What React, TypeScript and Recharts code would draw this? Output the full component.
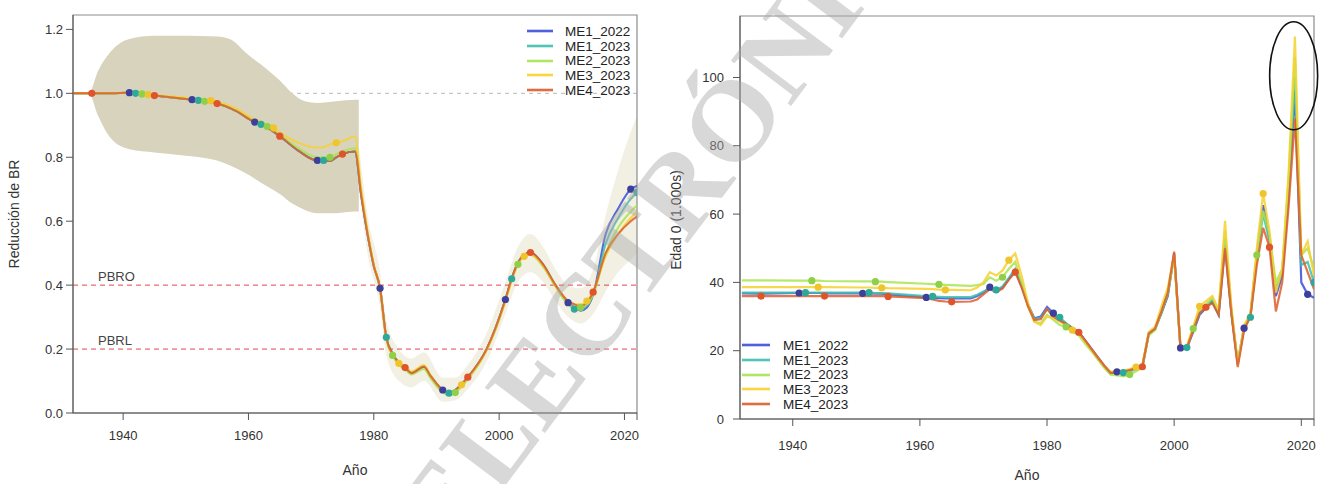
import React from 'react';
import {
  ComposedChart,
  LineChart,
  Line,
  Area,
  XAxis,
  YAxis,
  ReferenceLine,
  ReferenceArea,
  ReferenceDot,
  Legend,
} from 'recharts';

const FONT = '"Liberation Sans", Arial, Helvetica, sans-serif';

const SERIES = ['ME1_2022', 'ME1_2023', 'ME2_2023', 'ME3_2023', 'ME4_2023'];
const COLORS = ['#3b4fd8', '#3dbfae', '#a9e44f', '#f6d12e', '#dd5d2c'];
const DOT_COLORS = ['#3d3f9c', '#2fa89c', '#8fd048', '#f0c52c', '#e0542c'];
// each run marks the years whose last digit is its own number (1..5)
const DOT_DIGIT = [1, 2, 3, 4, 5];

// ---- spawning biomass depletion ----
const brYears = [
  1932, 1935, 1938, 1941, 1942, 1943, 1944, 1945, 1948, 1951, 1952, 1953, 1954, 1955, 1958,
  1961, 1962, 1963, 1964, 1965, 1968, 1971, 1972, 1973, 1974, 1975, 1977, 1978, 1979, 1980,
  1981, 1982, 1983, 1984, 1985, 1986, 1988, 1989, 1991, 1992, 1993, 1994, 1995, 1998, 2001,
  2002, 2003, 2004, 2005, 2007, 2009, 2011, 2012, 2013, 2014, 2015, 2017, 2019, 2021, 2022,
];
const brME1_2022 = [
  1.0, 1.0, 1.0, 1.002, 1.0, 0.998, 0.996, 0.993, 0.987, 0.98, 0.978, 0.975, 0.972, 0.968, 0.945,
  0.91, 0.903, 0.893, 0.88, 0.866, 0.82, 0.79, 0.79, 0.788, 0.8, 0.81, 0.818, 0.68, 0.56, 0.46,
  0.39, 0.235, 0.185, 0.156, 0.142, 0.125, 0.145, 0.118, 0.072, 0.064, 0.072, 0.09, 0.112, 0.2, 0.355,
  0.42, 0.47, 0.495, 0.502, 0.465, 0.4, 0.345, 0.33, 0.32, 0.33, 0.37, 0.56, 0.64, 0.7, 0.71,
];
const brME1_2023 = [
  1.0, 1.0, 1.0, 1.002, 1.0, 0.998, 0.996, 0.993, 0.987, 0.98, 0.978, 0.975, 0.972, 0.968, 0.945,
  0.91, 0.903, 0.893, 0.88, 0.866, 0.82, 0.79, 0.79, 0.788, 0.8, 0.81, 0.818, 0.68, 0.56, 0.46,
  0.39, 0.237, 0.187, 0.158, 0.143, 0.126, 0.146, 0.118, 0.07, 0.062, 0.07, 0.088, 0.11, 0.2, 0.355,
  0.42, 0.47, 0.495, 0.5, 0.462, 0.398, 0.345, 0.325, 0.325, 0.335, 0.37, 0.53, 0.61, 0.67, 0.69,
];
const brME2_2023 = [
  1.0, 1.0, 1.0, 1.002, 1.0, 0.998, 0.996, 0.993, 0.987, 0.98, 0.978, 0.975, 0.972, 0.968, 0.947,
  0.912, 0.905, 0.896, 0.884, 0.87, 0.828, 0.8, 0.8, 0.8, 0.81, 0.818, 0.828, 0.69, 0.565, 0.46,
  0.385, 0.23, 0.18, 0.15, 0.136, 0.12, 0.138, 0.11, 0.064, 0.056, 0.064, 0.082, 0.105, 0.195, 0.35,
  0.415, 0.465, 0.49, 0.495, 0.458, 0.395, 0.34, 0.33, 0.33, 0.34, 0.37, 0.5, 0.58, 0.63, 0.65,
];
const brME3_2023 = [
  1.0, 1.0, 1.0, 1.002, 1.0, 0.998, 0.996, 0.994, 0.99, 0.984, 0.982, 0.98, 0.977, 0.974, 0.952,
  0.918, 0.912, 0.903, 0.892, 0.878, 0.845, 0.83, 0.832, 0.84, 0.845, 0.85, 0.865, 0.7, 0.57, 0.465,
  0.39, 0.232, 0.182, 0.155, 0.148, 0.13, 0.15, 0.12, 0.07, 0.062, 0.07, 0.088, 0.11, 0.198, 0.35,
  0.415, 0.465, 0.49, 0.495, 0.46, 0.398, 0.35, 0.34, 0.34, 0.35, 0.38, 0.49, 0.56, 0.61, 0.63,
];
const brME4_2023 = [
  1.0, 1.0, 1.0, 1.002, 1.0, 0.998, 0.996, 0.993, 0.987, 0.98, 0.978, 0.975, 0.972, 0.968, 0.945,
  0.91, 0.903, 0.893, 0.88, 0.866, 0.82, 0.79, 0.79, 0.788, 0.8, 0.81, 0.818, 0.68, 0.56, 0.46,
  0.39, 0.235, 0.185, 0.156, 0.142, 0.125, 0.145, 0.118, 0.072, 0.064, 0.072, 0.09, 0.112, 0.2, 0.355,
  0.42, 0.47, 0.495, 0.502, 0.465, 0.4, 0.35, 0.34, 0.335, 0.345, 0.378, 0.5, 0.56, 0.6, 0.615,
];

// uncertainty envelope, wide in the early years and narrow after the collapse
const bandYears = [1932, 1934.5, 1936, 1938, 1941, 1945, 1950, 1955, 1957, 1960, 1962, 1965, 1967, 1969, 1971, 1974, 1977, 1977.6];
const bandLow = [1.0, 1.0, 0.93, 0.86, 0.825, 0.815, 0.805, 0.79, 0.775, 0.745, 0.72, 0.685, 0.655, 0.635, 0.625, 0.625, 0.63, 0.63];
const bandHigh = [1.0, 1.0, 1.07, 1.13, 1.17, 1.18, 1.18, 1.178, 1.17, 1.12, 1.09, 1.04, 1.0, 0.975, 0.97, 0.975, 0.98, 0.98];

const lateYears = [1977.6, 1979, 1981, 1982, 1984, 1986, 1988, 1991, 1993, 1995, 1998, 2001, 2003, 2005, 2007, 2009, 2011, 2013, 2015, 2017, 2019, 2021, 2022];
const lateLow = [0.7, 0.5, 0.33, 0.18, 0.1, 0.08, 0.1, 0.035, 0.04, 0.075, 0.16, 0.31, 0.41, 0.44, 0.41, 0.35, 0.3, 0.28, 0.31, 0.38, 0.44, 0.48, 0.5];
const lateHigh = [0.84, 0.62, 0.44, 0.29, 0.2, 0.17, 0.19, 0.11, 0.11, 0.15, 0.25, 0.41, 0.52, 0.56, 0.52, 0.45, 0.4, 0.39, 0.45, 0.62, 0.76, 0.88, 0.93];

const brTicksX = [1940, 1960, 1980, 2000, 2020, 2022];
const brTicksY = [0, 0.2, 0.4, 0.6, 0.8, 1.0, 1.2];

// ---- age-0 recruits (thousands) ----
const recYears = [
  1932, 1935, 1941, 1942, 1943, 1944, 1945, 1951, 1952, 1953, 1954, 1955, 1961, 1962, 1963, 1964, 1965, 1968, 1969,
  1970, 1971, 1972, 1973, 1974, 1975, 1976, 1977, 1978, 1979, 1980, 1981, 1982, 1983, 1984, 1985, 1986, 1987, 1988, 1989,
  1990, 1991, 1992, 1993, 1994, 1995, 1996, 1997, 1998, 1999, 2000, 2001, 2002, 2003, 2004, 2005, 2006, 2007, 2008, 2009,
  2010, 2011, 2012, 2013, 2014, 2015, 2016, 2017, 2018, 2019, 2020, 2021, 2022,
];
const recME1_2022 = [
  36.8, 36.7, 36.9, 36.9, 36.9, 36.9, 36.8, 36.8, 36.8, 36.7, 36.7, 36.5, 35.6, 35.5, 35.4, 35.3, 35.3, 35.3, 36,
  37, 38.6, 37.6, 38.5, 41, 43.5, 39, 33.5, 29.5, 30, 32.8, 31, 29, 28, 26.6, 25.5, 23, 20.5, 18, 15.6,
  13.6, 13.8, 14, 14.3, 14.8, 15.5, 25, 26.5, 31, 36, 48.5, 20.8, 20.8, 25.5, 30.5, 32.5, 34.5, 30.5, 51, 31,
  16, 26.6, 30.5, 48, 62.6, 53, 36, 42, 66, 96, 40, 36.5, 35.5,
];
const recME1_2023 = [
  37, 37, 37, 37, 37, 37, 37, 37, 37, 36.9, 36.9, 36.8, 36, 35.9, 35.8, 35.7, 35.7, 35.7, 36.4,
  37.3, 38.4, 37.8, 38.8, 41.3, 44, 39.2, 33.5, 29.3, 29.6, 32.2, 30.6, 29.8, 28, 26.4, 25.2, 22.8, 20.3, 17.8, 15.4,
  13.4, 13.5, 13.6, 14, 14.5, 15.2, 24.8, 26.2, 31, 36.5, 48, 20.6, 20.9, 26, 31, 33, 35, 31, 53, 31.5,
  16.5, 27, 29.8, 47, 60, 52, 38, 43, 66, 100, 45, 46, 40,
];
const recME2_2023 = [
  40.6, 40.6, 40.5, 40.5, 40.5, 40.5, 40.4, 40.3, 40.3, 40.2, 40.2, 40.1, 39.6, 39.5, 39.4, 39.3, 39.2, 39, 39.2,
  39.5, 41.5, 40.5, 41.5, 44, 46, 40, 33, 28.5, 28, 30.5, 29, 27.5, 27, 25.5, 24.5, 22, 19.8, 17.4, 15,
  13, 12.8, 12.5, 13, 14, 15, 24.5, 26, 31.5, 37, 47.5, 20.3, 21, 26.5, 32, 33.5, 35.5, 31.5, 55, 32,
  16.5, 27, 30, 48, 61, 54, 40, 44, 70, 106, 48, 50, 44,
];
const recME3_2023 = [
  38.6, 38.6, 38.6, 38.6, 38.6, 38.6, 38.6, 38.5, 38.5, 38.4, 38.4, 38.3, 38.1, 38, 37.9, 37.8, 37.8, 37.7, 38.5,
  40, 43, 42, 43.5, 46.5, 48.5, 42, 34, 28.5, 27.5, 30, 29.5, 28.5, 27.5, 26, 25, 22.5, 20.2, 17.8, 15.4,
  13.8, 14, 14.2, 14.6, 15.2, 15.8, 25.5, 27, 33, 38.5, 48, 21, 21.5, 27, 33, 34.5, 36, 32, 58, 33,
  16, 27.5, 31, 50, 66, 55, 37, 44, 72, 112, 48, 52, 42,
];
const recME4_2023 = [
  36, 36, 36, 36, 36, 36, 36, 36, 36, 36, 36, 35.9, 35.4, 35, 34.6, 34.4, 34.3, 34.4, 35,
  36.5, 38, 37.2, 38.2, 40.8, 43, 38.5, 33, 29, 29.2, 32.2, 30, 28.8, 27.8, 26.5, 25.4, 23, 20.5, 18, 15.6,
  13.5, 13.6, 13.8, 14.3, 15, 15.3, 25, 26.5, 31.5, 37, 49, 20.5, 20.8, 26, 31, 32.7, 34, 30.5, 50, 31,
  15.2, 26, 30, 45, 56, 50.3, 31.5, 40, 62, 88, 48, 43, 38,
];

const recTicksX = [1940, 1960, 1980, 2000, 2020, 2022];
const recTicksY = [0, 20, 40, 60, 80, 100];

const brValues = [brME1_2022, brME1_2023, brME2_2023, brME3_2023, brME4_2023];
const recValues = [recME1_2022, recME1_2023, recME2_2023, recME3_2023, recME4_2023];

// rows keyed by year; each series only fills the years it has
const brRows = new Map<number, Record<string, any>>();
const brRow = (y: number) => {
  if (!brRows.has(y)) brRows.set(y, { year: y });
  return brRows.get(y)!;
};
brYears.forEach((y, i) => SERIES.forEach((s, k) => (brRow(y)[s] = brValues[k][i])));
bandYears.forEach((y, i) => (brRow(y).band = [bandLow[i], bandHigh[i]]));
lateYears.forEach((y, i) => (brRow(y).late = [lateLow[i], lateHigh[i]]));
const brData = [...brRows.values()].sort((a, b) => a.year - b.year);

const recData = recYears.map((y, i) => {
  const row: Record<string, number> = { year: y };
  SERIES.forEach((s, k) => (row[s] = recValues[k][i]));
  return row;
});

const makeDot = (k: number) => (props: any) => {
  const { cx, cy, payload, index } = props;
  const key = `dot-${k}-${index}`;
  if (cx == null || cy == null || !payload || payload[SERIES[k]] == null) return <g key={key} />;
  const yr = Math.round(payload.year);
  if (yr < 1934 || yr % 10 !== DOT_DIGIT[k]) return <g key={key} />;
  return <circle key={key} cx={cx} cy={cy} r={3.6} fill={DOT_COLORS[k]} stroke="none" />;
};

const tickStyle = { fill: '#333', fontSize: 13, fontFamily: FONT };
const yearLabel = (v: number) => (v === 2022 ? '' : String(v));

const LegendBox = ({ lineW, gap }: { lineW: number; gap: number }) => (
  <div style={{ fontFamily: FONT, fontSize: 13.5, color: '#222' }}>
    {SERIES.map((s, k) => (
      <div key={s} style={{ display: 'flex', alignItems: 'center', height: 14.7, whiteSpace: 'nowrap' }}>
        <svg width={lineW} height={6} style={{ display: 'block' }}>
          <line x1={0} y1={3} x2={lineW} y2={3} stroke={COLORS[k]} strokeWidth={2.6} strokeOpacity={0.9} />
        </svg>
        <span style={{ marginLeft: gap }}>{s}</span>
      </div>
    ))}
  </div>
);

const TitleText = ({ x, y, rotate, children }: { x: number; y: number; rotate?: boolean; children: string }) => (
  <text
    x={x}
    y={y}
    transform={rotate ? `rotate(-90 ${x} ${y})` : undefined}
    textAnchor="middle"
    fontFamily={FONT}
    fontSize={14}
    fill="#333"
  >
    {children}
  </text>
);

const DepletionChart = () => (
  <ComposedChart width={660} height={484} data={brData} margin={{ top: 15, right: 23, bottom: 0, left: 0 }}>
    <XAxis
      type="number"
      dataKey="year"
      domain={[1932, 2022]}
      ticks={brTicksX}
      interval={0}
      tickFormatter={yearLabel}
      allowDataOverflow
      height={71}
      tickSize={7}
      tickMargin={11}
      tick={tickStyle}
      axisLine={{ stroke: '#555' }}
      tickLine={{ stroke: '#555' }}
      label={{ content: () => <TitleText x={355} y={475}>Año</TitleText> }}
    />
    <YAxis
      type="number"
      domain={[0, 1.245]}
      ticks={brTicksY}
      interval={0}
      tickFormatter={(v: number) => v.toFixed(1)}
      allowDataOverflow
      width={73}
      tickSize={7}
      tickMargin={3}
      tick={tickStyle}
      axisLine={{ stroke: '#555' }}
      tickLine={{ stroke: '#555' }}
      label={{ content: () => <TitleText x={19} y={214} rotate>Reducción de BR</TitleText> }}
    />
    <ReferenceLine y={1} stroke="#b8b8b8" strokeDasharray="4 4" zIndex={50} />
    <Area
      type="monotone"
      dataKey="band"
      stroke="none"
      fill="#d8d3bd"
      fillOpacity={1}
      connectNulls
      isAnimationActive={false}
    />
    <Area
      type="monotone"
      dataKey="late"
      stroke="none"
      fill="#e8e3cc"
      fillOpacity={0.55}
      connectNulls
      isAnimationActive={false}
    />
    <ReferenceLine
      y={0.4}
      stroke="#e0474c"
      strokeDasharray="5 4"
      label={{
        content: (p: any) => (
          <text x={p.viewBox.x + 25} y={p.viewBox.y - 4} fontFamily={FONT} fontSize={13} fill="#444">
            PBRO
          </text>
        ),
      }}
    />
    <ReferenceLine
      y={0.2}
      stroke="#e0474c"
      strokeDasharray="5 4"
      label={{
        content: (p: any) => (
          <text x={p.viewBox.x + 25} y={p.viewBox.y - 4} fontFamily={FONT} fontSize={13} fill="#444">
            PBRL
          </text>
        ),
      }}
    />
    {SERIES.map((s, k) => (
      <Line
        key={s}
        type="monotone"
        dataKey={s}
        stroke={COLORS[k]}
        strokeWidth={2}
        strokeOpacity={0.85}
        dot={makeDot(k)}
        activeDot={false}
        connectNulls
        isAnimationActive={false}
      />
    ))}
    <ReferenceArea x1={1932} x2={2022} y1={0} y2={1.245} fill="none" stroke="#8c8c8c" strokeWidth={1.2} />
    <Legend
      layout="vertical"
      align="center"
      verticalAlign="middle"
      wrapperStyle={{ left: 527, top: 24, width: 'auto' }}
      content={() => <LegendBox lineW={26} gap={12} />}
    />
  </ComposedChart>
);

const RecruitChart = () => (
  <LineChart width={665} height={484} data={recData} margin={{ top: 16, right: 11, bottom: 0, left: 0 }}>
    <XAxis
      type="number"
      dataKey="year"
      domain={[1931.7, 2022]}
      ticks={recTicksX}
      interval={0}
      tickFormatter={yearLabel}
      allowDataOverflow
      height={65}
      tickSize={7}
      tickMargin={15}
      tick={tickStyle}
      axisLine={{ stroke: '#555' }}
      tickLine={{ stroke: '#555' }}
      label={{ content: () => <TitleText x={367} y={480}>Año</TitleText> }}
    />
    <YAxis
      type="number"
      domain={[0, 118]}
      ticks={recTicksY}
      interval={0}
      allowDataOverflow
      width={80}
      tickSize={7}
      tickMargin={9}
      tick={tickStyle}
      axisLine={{ stroke: '#555' }}
      tickLine={{ stroke: '#555' }}
      label={{ content: () => <TitleText x={21} y={220} rotate>Edad 0 (1.000s)</TitleText> }}
    />
    {SERIES.map((s, k) => (
      <Line
        key={s}
        type="linear"
        dataKey={s}
        stroke={COLORS[k]}
        strokeWidth={2.2}
        strokeOpacity={0.85}
        dot={makeDot(k)}
        activeDot={false}
        isAnimationActive={false}
      />
    ))}
    <ReferenceArea x1={1931.7} x2={2022} y1={0} y2={118} fill="none" stroke="#8c8c8c" strokeWidth={1.2} />
    <ReferenceDot
      x={2018.8}
      y={100.5}
      ifOverflow="visible"
      shape={(p: any) => <ellipse cx={p.cx} cy={p.cy} rx={24} ry={54} fill="none" stroke="#111" strokeWidth={1.6} />}
    />
    <Legend
      layout="vertical"
      align="center"
      verticalAlign="middle"
      wrapperStyle={{ left: 82, top: 338, width: 'auto' }}
      content={() => <LegendBox lineW={28} gap={13} />}
    />
  </LineChart>
);

export default function App() {
  return (
    <div style={{ position: 'absolute', left: 0, top: 0, width: 1325, height: 484, background: '#fff', overflow: 'hidden' }}>
      <div style={{ position: 'absolute', left: 0, top: 0 }}>
        <DepletionChart />
      </div>
      <div style={{ position: 'absolute', left: 660, top: 0 }}>
        <RecruitChart />
      </div>
      <svg width={1325} height={484} style={{ position: 'absolute', left: 0, top: 0, pointerEvents: 'none' }}>
        <text
          x={709}
          y={215}
          transform="rotate(-53 709 215)"
          textAnchor="middle"
          fontFamily='"Liberation Serif", "DejaVu Serif", serif'
          fontWeight="bold"
          fontSize={115}
          fill="#a8a8a8"
          fillOpacity={0.45}
        >
          ELECTRÓNICA
        </text>
      </svg>
    </div>
  );
}
